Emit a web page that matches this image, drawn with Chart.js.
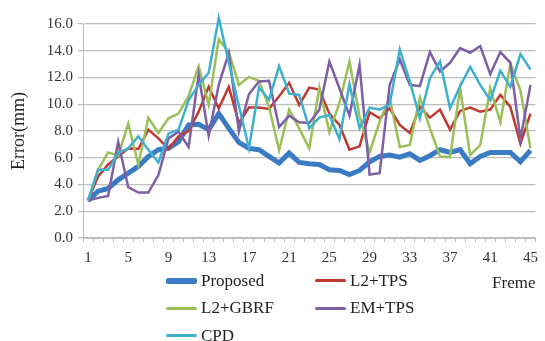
<!DOCTYPE html>
<html>
<head>
<meta charset="utf-8">
<script src="https://cdn.jsdelivr.net/npm/chart.js@4/dist/chart.umd.min.js"></script>
<style>
body { margin: 0; background: #fff; }
#wrap { position: relative; width: 545px; height: 341px; }
#legend { position: absolute; left: 166px; top: 267px; display: grid; grid-template-columns: 149px auto;
  font: 17px "Liberation Serif", serif; color: #222; }
.item { display: flex; align-items: center; height: 27.5px; }
.swatch { width: 31px; margin-right: 4px; border-radius: 2px; }
</style>
</head>
<body>
<div id="wrap">
  <canvas id="chart" width="545" height="341"></canvas>
  <div id="legend"></div>
</div>
<script>
const frames = ['1','2','3','4','5','6','7','8','9','10','11','12','13','14','15','16','17','18','19','20',
  '21','22','23','24','25','26','27','28','29','30','31','32','33','34','35','36','37','38','39','40',
  '41','42','43','44','45'];
const shownTicks = ['1','5','9','13','17','21','25','29','33','37','41','45'];

const proposed = [2.8, 3.5, 3.7, 4.35, 4.85, 5.35, 6.1, 6.6, 6.7, 7.2,
  8.45, 8.5, 8.1, 9.3, 8.2, 7.15, 6.7, 6.6, 6.1, 5.6,
  6.35, 5.65, 5.55, 5.5, 5.1, 5.05, 4.75, 5.05, 5.7, 6.1,
  6.2, 6.05, 6.3, 5.8, 6.15, 6.6, 6.4, 6.6, 5.55, 6.1,
  6.4, 6.4, 6.4, 5.7, 6.55];
const l2tps = [2.8, 4.6, 5.5, 6.1, 6.7, 6.65, 8.1, 7.45, 6.65, 7.6,
  8.0, 9.45, 11.3, 9.7, 11.3, 8.6, 9.75, 9.75, 9.65, 10.6,
  11.6, 9.95, 11.25, 11.1, 9.3, 8.45, 6.6, 6.85, 9.4, 8.95,
  9.7, 8.45, 7.85, 9.8, 9.0, 9.6, 8.1, 9.5, 9.75, 9.45,
  9.6, 10.7, 9.8, 7.05, 9.3];
const l2gbrf = [2.8, 5.1, 6.4, 6.15, 8.55, 5.5, 9.0, 7.85, 8.95, 9.3,
  10.6, 12.85, 9.95, 14.85, 13.9, 11.45, 12.05, 11.75, 9.8, 6.55,
  9.6, 8.2, 6.7, 11.25, 7.9, 10.1, 13.2, 9.1, 6.4, 8.7,
  10.45, 6.8, 6.95, 10.5, 8.2, 6.1, 6.05, 11.2, 6.2, 6.95,
  11.2, 8.65, 13.05, 11.05, 6.7];
const emtps = [2.8, 3.0, 3.15, 7.2, 3.8, 3.4, 3.4, 4.7, 7.45, 7.95,
  6.8, 12.2, 7.65, 11.45, 13.85, 7.95, 10.75, 11.7, 11.75, 8.3,
  9.15, 8.65, 8.6, 9.6, 13.2, 11.2, 9.15, 12.95, 4.75, 4.85,
  11.45, 13.35, 11.45, 11.35, 13.9, 12.45, 13.1, 14.2, 13.85, 14.35,
  12.25, 13.9, 13.1, 7.4, 11.45];
const cpd = [2.8, 5.1, 5.1, 6.35, 6.7, 7.6, 6.6, 5.65, 7.8, 8.1,
  10.3, 11.45, 12.35, 16.45, 13.1, 9.9, 6.7, 11.25, 10.35, 12.85,
  10.8, 10.7, 8.2, 9.0, 9.2, 7.4, 11.5, 8.2, 9.75, 9.6,
  10.0, 14.1, 11.7, 8.95, 11.95, 13.2, 9.7, 11.35, 12.8, 11.45,
  10.3, 12.5, 11.3, 13.75, 12.6];

const series = [
  { label: 'Proposed', data: proposed, color: '#3a7bc4', width: 5 },
  { label: 'L2+TPS', data: l2tps, color: '#c0392f', width: 2.5 },
  { label: 'L2+GBRF', data: l2gbrf, color: '#9bbf59', width: 2.5 },
  { label: 'EM+TPS', data: emtps, color: '#7e5fa6', width: 2.5 },
  { label: 'CPD', data: cpd, color: '#3fb0cc', width: 2.5 }
];

const serif = 'Liberation Serif';
const gridColor = '#bdbdbd';

new Chart(document.getElementById('chart'), {
  type: 'line',
  data: {
    labels: frames,
    datasets: series.map((s, i) => ({
      label: s.label,
      data: s.data,
      borderColor: s.color,
      backgroundColor: s.color,
      borderWidth: s.width,
      pointRadius: 0,
      tension: 0,
      clip: false,
      order: series.length - i
    }))
  },
  options: {
    responsive: false,
    devicePixelRatio: 1,
    animation: false,
    layout: { padding: { top: 24, right: 1, bottom: 0, left: 0 } },
    plugins: { legend: { display: false }, tooltip: { enabled: false } },
    scales: {
      x: {
        offset: true,
        grid: { offset: true, drawOnChartArea: false, drawTicks: true, tickLength: 4, color: gridColor },
        border: { color: gridColor },
        ticks: {
          autoSkip: false, maxRotation: 0, padding: 7, color: '#333',
          font: { family: serif, size: 15 },
          callback: function (v) {
            const lab = this.getLabelForValue(v);
            return shownTicks.includes(lab) ? lab : '';
          }
        },
        title: { display: true, text: 'Freme', align: 'end', color: '#222',
          font: { family: serif, size: 17 }, padding: { top: 0, bottom: 47 } },
        afterFit: s => { s.height = 103; }
      },
      y: {
        min: 0, max: 16,
        grid: { color: gridColor, lineWidth: 1.3, tickLength: 5 },
        border: { color: gridColor },
        ticks: { stepSize: 2, padding: 5, color: '#333', font: { family: serif, size: 15 },
          callback: v => v.toFixed(1) },
        title: { display: true, text: 'Error(mm)', color: '#222',
          font: { family: serif, size: 18 }, padding: { top: 8, bottom: 0 } },
        afterFit: s => { s.width = 83; }
      }
    }
  }
});

const legend = document.getElementById('legend');
series.forEach(s => {
  const item = document.createElement('div');
  item.className = 'item';
  const sw = document.createElement('span');
  sw.className = 'swatch';
  sw.style.height = (s.width + 0.5) + 'px';
  sw.style.background = s.color;
  const txt = document.createElement('span');
  txt.textContent = s.label;
  item.appendChild(sw);
  item.appendChild(txt);
  legend.appendChild(item);
});
</script>
</body>
</html>
